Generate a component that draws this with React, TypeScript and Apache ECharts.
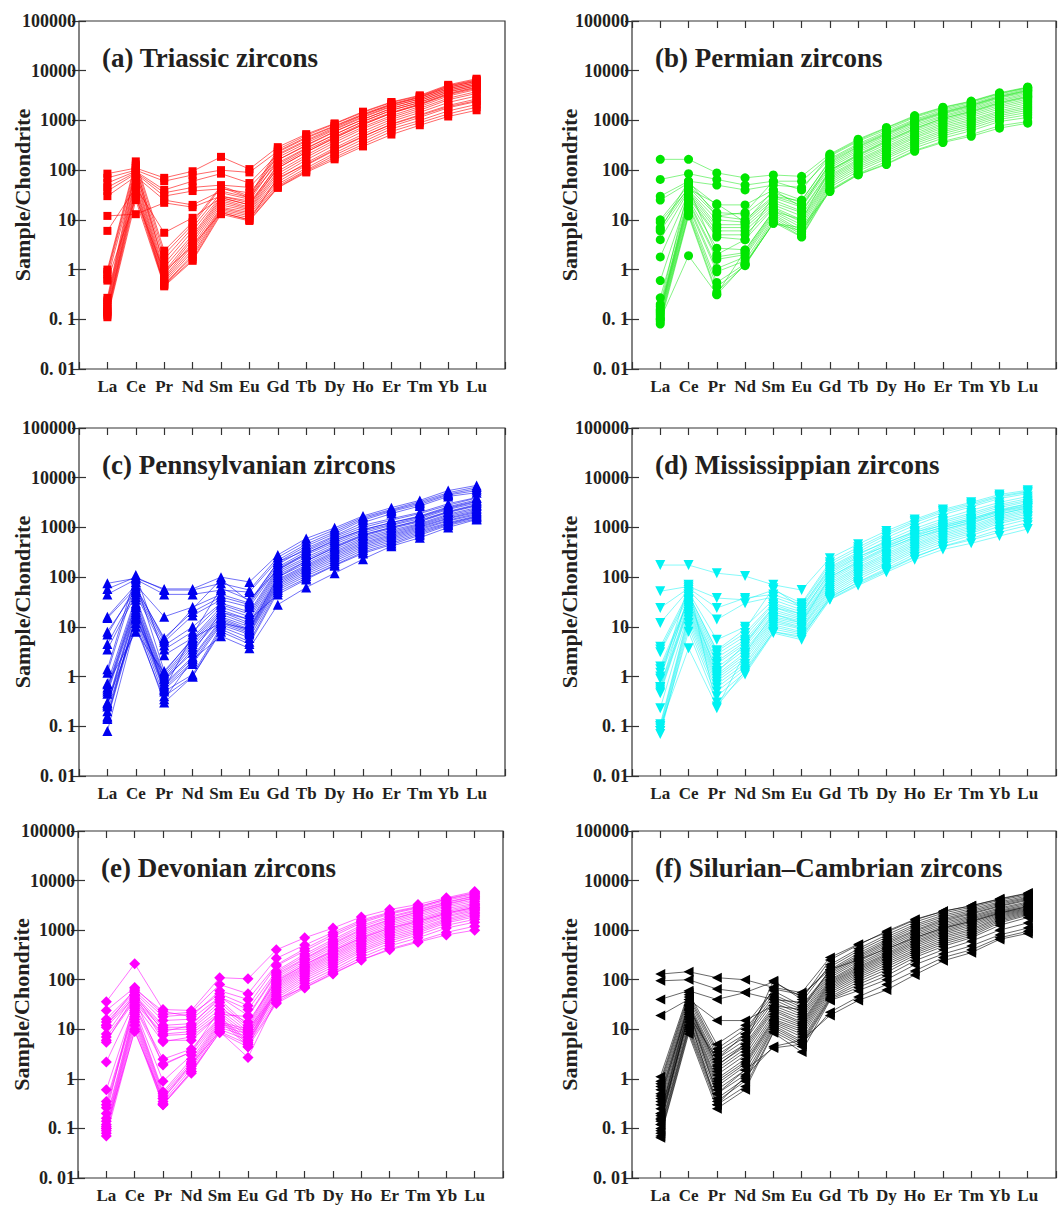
import React, { useEffect, useRef } from 'react';
import * as echarts from 'echarts';

const REE = ['La', 'Ce', 'Pr', 'Nd', 'Sm', 'Eu', 'Gd', 'Tb', 'Dy', 'Ho', 'Er', 'Tm', 'Yb', 'Lu'];
const Y_TICK_LABELS = ['0. 01', '0. 1', '1', '10', '100', '1000', '10000', '100000'];
const PANEL_TITLES = [
  '(a) Triassic zircons',
  '(b) Permian zircons',
  '(c) Pennsylvanian zircons',
  '(d) Mississippian zircons',
  '(e) Devonian zircons',
  '(f) Silurian\u2013Cambrian zircons',
];
const Y_NAME = 'Sample/Chondrite';

// Chondrite-normalised REE per sample: La..Lu
const triassic = [
  [85, 110, 70, 95, 185, 105, 290, 530, 870, 1500, 2350, 3200, 5200, 6900],
  [70, 100, 60, 80, 100, 90, 240, 460, 780, 1350, 2150, 3000, 4900, 6400],
  [55, 95, 40, 60, 85, 55, 210, 400, 720, 1280, 2050, 2900, 4700, 6100],
  [45, 90, 35, 45, 50, 45, 180, 350, 650, 1150, 1900, 2700, 4400, 5700],
  [38, 85, 30, 38, 42, 35, 160, 310, 590, 1050, 1750, 2500, 4100, 5300],
  [30, 75, 25, 20, 38, 28, 140, 280, 520, 950, 1600, 2300, 3800, 5000],
  [12, 13, 22, 18, 30, 22, 120, 250, 470, 870, 1450, 2150, 3500, 4700],
  [6, 45, 5.5, 11, 28, 20, 110, 230, 440, 820, 1400, 2050, 3300, 4400],
  [1.0, 150, 2.4, 9, 48, 30, 260, 500, 850, 1450, 2300, 3100, 5000, 6600],
  [0.9, 130, 2.0, 8, 45, 28, 230, 440, 760, 1300, 2100, 2900, 4600, 6200],
  [0.8, 110, 1.6, 7, 35, 26, 200, 380, 680, 1200, 1950, 2700, 4300, 5800],
  [0.65, 90, 1.3, 6, 30, 24, 160, 320, 600, 1050, 1750, 2500, 4000, 5400],
  [0.27, 120, 1.1, 5, 28, 20, 130, 270, 520, 950, 1600, 2300, 3700, 5000],
  [0.24, 100, 0.9, 4.5, 26, 18, 110, 230, 450, 830, 1400, 2100, 3400, 4600],
  [0.22, 80, 0.8, 4, 24, 17, 95, 200, 400, 740, 1250, 1900, 3100, 4200],
  [0.2, 70, 0.7, 3.5, 22, 16, 85, 180, 360, 680, 1150, 1750, 2800, 3800],
  [0.18, 60, 0.65, 3, 20, 15, 75, 160, 320, 600, 1050, 1600, 2600, 3500],
  [0.16, 50, 0.6, 2.6, 18, 14, 65, 140, 280, 530, 950, 1450, 2300, 3100],
  [0.15, 45, 0.55, 2.3, 17, 13, 58, 125, 250, 470, 850, 1300, 2000, 2700],
  [0.14, 40, 0.5, 2.0, 16, 12, 52, 110, 220, 420, 760, 1150, 1800, 2400],
  [0.13, 35, 0.5, 1.8, 15, 11, 48, 100, 200, 370, 680, 1000, 1550, 2100],
  [0.12, 30, 0.48, 1.6, 14, 10, 45, 95, 180, 330, 600, 900, 1350, 1850],
  [0.11, 25, 0.46, 1.5, 13, 9.5, 44, 90, 165, 300, 520, 800, 1200, 1600],
  [0.6, 28, 0.9, 3, 14, 10, 70, 130, 260, 480, 830, 1250, 1900, 2500],
];

const permian = [
  [165, 165, 88, 70, 80, 75, 210, 420, 720, 1250, 1850, 2450, 3600, 4700],
  [65, 85, 65, 50, 60, 60, 190, 380, 650, 1150, 1700, 2300, 3400, 4500],
  [30, 60, 50, 40, 50, 45, 170, 340, 600, 1050, 1600, 2150, 3200, 4300],
  [25, 55, 20, 20, 40, 25, 150, 300, 540, 950, 1450, 2000, 3000, 4000],
  [10, 50, 14, 13, 35, 22, 130, 270, 490, 880, 1350, 1850, 2800, 3700],
  [7, 45, 12, 10, 30, 20, 120, 250, 450, 820, 1250, 1750, 2600, 3500],
  [6, 40, 10, 9, 28, 18, 110, 230, 420, 760, 1180, 1650, 2450, 3300],
  [4, 38, 8, 8, 25, 15, 100, 210, 390, 700, 1100, 1550, 2300, 3100],
  [1.8, 35, 7, 7, 22, 14, 95, 195, 360, 650, 1020, 1450, 2150, 2900],
  [0.6, 32, 6, 6, 20, 12, 88, 180, 330, 600, 950, 1350, 2000, 2700],
  [0.27, 30, 5, 5, 18, 10, 80, 165, 300, 550, 880, 1250, 1850, 2500],
  [0.18, 28, 4.5, 4, 17, 9, 75, 155, 280, 510, 820, 1150, 1700, 2300],
  [0.16, 26, 2.7, 2.5, 15, 8, 70, 145, 260, 470, 760, 1050, 1550, 2100],
  [0.15, 24, 1.8, 2.2, 14, 7, 65, 135, 240, 440, 700, 980, 1450, 1900],
  [0.14, 22, 1.6, 2.0, 13, 6, 60, 125, 220, 400, 640, 900, 1350, 1750],
  [0.13, 20, 1.05, 1.8, 12, 5.5, 55, 115, 200, 370, 590, 830, 1250, 1600],
  [0.12, 18, 0.9, 1.5, 11, 5, 50, 105, 185, 340, 540, 760, 1150, 1450],
  [0.11, 16, 0.55, 1.3, 10, 4.6, 45, 95, 170, 310, 490, 690, 1050, 1300],
  [0.1, 14, 0.45, 1.2, 9, 4.5, 40, 85, 150, 280, 440, 620, 950, 1150],
  [0.09, 13, 0.35, 1.25, 8.5, 6, 37, 80, 130, 240, 360, 480, 700, 880],
  [0.08, 12, 0.31, 1.3, 8.5, 7, 38, 82, 135, 250, 380, 520, 780, 950],
  [0.1, 1.9, 0.32, 2.4, 15, 10, 100, 200, 380, 680, 1100, 1500, 2250, 3000],
  [6.5, 60, 12, 14, 60, 40, 200, 400, 700, 1200, 1800, 2400, 3500, 4600],
  [0.2, 45, 2.0, 4, 30, 24, 160, 320, 560, 1000, 1500, 2050, 3050, 4100],
  [9, 42, 21, 9, 40, 18, 140, 290, 520, 930, 1400, 1950, 2900, 3900],
];

const pennsylvanian = [
  [75, 95, 58, 58, 100, 80, 280, 600, 980, 1700, 2500, 3500, 5500, 7000],
  [58, 100, 55, 55, 75, 55, 250, 520, 900, 1600, 2300, 3300, 5000, 6500],
  [45, 90, 45, 45, 55, 50, 220, 460, 820, 1500, 2200, 3100, 4700, 6000],
  [16, 70, 16, 25, 45, 30, 200, 420, 750, 1400, 2100, 2900, 4500, 5500],
  [15, 60, 6, 20, 40, 28, 180, 380, 680, 1250, 1900, 2700, 4200, 5000],
  [8, 55, 5, 17, 35, 25, 160, 330, 600, 1000, 1400, 1900, 2800, 3900],
  [4.5, 50, 4.2, 10, 30, 20, 150, 300, 540, 900, 1250, 1700, 2600, 3600],
  [3.5, 45, 3.5, 8, 28, 18, 140, 280, 500, 850, 1150, 1600, 2400, 3300],
  [1.4, 110, 2.7, 6, 25, 16, 130, 250, 460, 780, 1100, 1500, 2300, 3100],
  [1.2, 80, 1.3, 5.5, 22, 14, 120, 230, 420, 720, 1000, 1400, 2100, 2900],
  [0.73, 40, 1.1, 5, 20, 12, 110, 210, 390, 670, 950, 1300, 2000, 2700],
  [0.6, 35, 1.0, 4.5, 18, 11, 100, 190, 360, 620, 880, 1200, 1850, 2500],
  [0.55, 30, 0.9, 4, 16, 10, 90, 175, 330, 580, 820, 1150, 1750, 2350],
  [0.5, 28, 0.8, 3.5, 15, 9, 85, 165, 310, 540, 770, 1100, 1650, 2200],
  [0.29, 25, 0.7, 2.5, 14, 8.5, 80, 155, 290, 500, 720, 1050, 1550, 2100],
  [0.27, 22, 0.65, 2.3, 13, 8, 75, 145, 270, 470, 680, 1000, 1500, 2000],
  [0.25, 20, 0.6, 2.0, 12, 7.5, 70, 135, 250, 440, 640, 950, 1400, 1900],
  [0.16, 18, 0.55, 1.8, 11, 7, 65, 125, 230, 410, 600, 900, 1350, 1800],
  [0.15, 16, 0.5, 1.1, 10, 6, 60, 115, 210, 380, 560, 850, 1250, 1700],
  [0.14, 14, 0.4, 1.0, 9, 5, 55, 105, 190, 350, 520, 800, 1200, 1650],
  [0.08, 12, 0.3, 1.0, 8, 4.5, 50, 95, 175, 320, 480, 750, 1150, 1600],
  [0.3, 10, 0.35, 2.2, 6.5, 3.7, 28, 62, 120, 230, 420, 620, 1000, 1450],
  [0.7, 8, 1.2, 6, 12, 9, 100, 210, 400, 700, 1000, 1350, 2050, 2800],
  [0.45, 25, 0.55, 7, 60, 35, 140, 300, 560, 900, 1250, 1650, 2500, 3400],
  [7, 65, 5.5, 23, 90, 32, 200, 350, 650, 1100, 1500, 2000, 3000, 4000],
  [0.2, 15, 0.9, 3, 20, 14, 45, 90, 170, 300, 450, 700, 1100, 1500],
];

const mississippian = [
  [175, 175, 120, 105, 70, 55, 240, 460, 850, 1450, 2300, 3200, 4600, 5600],
  [52, 65, 38, 35, 55, 30, 200, 400, 760, 1350, 2150, 3000, 4300, 5300],
  [24, 60, 24, 38, 45, 28, 180, 360, 700, 1250, 2000, 2800, 4100, 5100],
  [12, 55, 14, 30, 40, 25, 160, 320, 620, 1100, 1800, 2600, 3800, 4800],
  [4, 50, 5.5, 10, 35, 22, 140, 280, 540, 950, 1500, 2200, 3200, 4200],
  [3.5, 45, 3.2, 7.5, 30, 20, 120, 250, 480, 850, 1350, 1950, 2900, 3800],
  [3.1, 40, 2.8, 6.5, 28, 18, 110, 230, 440, 780, 1250, 1800, 2700, 3500],
  [1.6, 36, 2.4, 5.5, 25, 16, 100, 210, 400, 710, 1150, 1650, 2500, 3300],
  [1.4, 33, 2.0, 5.0, 22, 15, 92, 190, 360, 650, 1050, 1500, 2300, 3000],
  [1.0, 30, 1.8, 4.5, 20, 14, 85, 175, 330, 600, 970, 1400, 2150, 2800],
  [0.62, 28, 1.5, 4.0, 18, 13, 78, 160, 300, 550, 900, 1300, 2000, 2600],
  [0.55, 26, 1.3, 3.5, 16, 12, 72, 150, 280, 510, 830, 1200, 1850, 2450],
  [0.5, 24, 1.1, 3.0, 15, 11, 66, 140, 260, 470, 770, 1100, 1700, 2300],
  [0.46, 22, 1.0, 2.7, 14, 10, 60, 130, 240, 440, 720, 1020, 1600, 2150],
  [0.23, 20, 0.9, 2.4, 13, 9.5, 55, 120, 220, 410, 670, 950, 1500, 2000],
  [0.11, 18, 0.8, 2.1, 12, 9, 50, 110, 200, 380, 620, 880, 1400, 1850],
  [0.1, 16, 0.7, 1.8, 11, 8, 46, 100, 185, 350, 570, 820, 1300, 1700],
  [0.09, 14, 0.6, 1.6, 10, 7.5, 42, 90, 170, 320, 520, 760, 1200, 1600],
  [0.08, 12, 0.5, 1.4, 9, 7, 38, 80, 150, 290, 470, 690, 1050, 1450],
  [0.07, 10, 0.4, 1.2, 8, 6.5, 36, 72, 135, 250, 420, 600, 900, 1250],
  [0.08, 8, 0.3, 1.1, 7.5, 5.5, 35, 68, 125, 225, 360, 480, 670, 930],
  [0.1, 3.7, 0.25, 1.3, 8, 6, 40, 78, 140, 260, 410, 560, 800, 1100],
  [0.9, 70, 0.23, 3, 18, 12, 100, 200, 380, 620, 900, 1250, 1850, 2500],
  [0.6, 45, 3.4, 9, 60, 24, 150, 300, 500, 800, 1100, 1500, 2200, 3000],
  [1.2, 35, 1.2, 4.5, 25, 18, 130, 260, 420, 700, 1000, 1400, 2100, 2700],
];

const devonian = [
  [36, 210, 25, 24, 110, 104, 400, 700, 1100, 1850, 2600, 3300, 4500, 6000],
  [24, 70, 20, 22, 80, 52, 270, 500, 900, 1600, 2300, 3000, 4200, 5500],
  [16, 60, 18, 20, 52, 30, 190, 380, 750, 1400, 2100, 2800, 4000, 5200],
  [14, 55, 15, 16, 45, 19, 140, 300, 600, 1150, 1800, 2500, 3600, 4800],
  [12, 50, 12, 13, 40, 12, 120, 260, 520, 1000, 1600, 2300, 3300, 4400],
  [11, 45, 11, 11, 35, 11, 110, 240, 480, 920, 1500, 2150, 3100, 4100],
  [7, 40, 10, 10, 30, 10, 100, 220, 440, 850, 1400, 2000, 2900, 3800],
  [6, 38, 8, 9, 25, 9, 90, 200, 400, 780, 1300, 1850, 2700, 3500],
  [2.2, 35, 7.5, 8, 22, 8, 85, 185, 370, 720, 1200, 1700, 2500, 3300],
  [0.6, 32, 5.6, 7, 20, 7, 80, 175, 340, 670, 1100, 1600, 2350, 3100],
  [0.35, 30, 2.5, 4, 18, 6, 75, 165, 320, 620, 1020, 1500, 2200, 2900],
  [0.3, 28, 2.0, 3.5, 17, 5.5, 70, 155, 300, 580, 950, 1400, 2100, 2750],
  [0.26, 26, 0.9, 3, 16, 5, 65, 145, 280, 540, 890, 1300, 1950, 2600],
  [0.16, 24, 0.55, 2.5, 15, 4.5, 60, 135, 260, 500, 830, 1200, 1850, 2450],
  [0.14, 22, 0.5, 2.2, 14, 10, 55, 125, 240, 460, 770, 1100, 1700, 2300],
  [0.12, 20, 0.45, 2.0, 13, 9, 50, 115, 220, 420, 710, 1020, 1600, 2150],
  [0.11, 18, 0.4, 1.8, 12, 8, 46, 105, 200, 390, 650, 950, 1500, 2000],
  [0.1, 16, 0.35, 1.6, 11, 7, 42, 95, 180, 360, 600, 880, 1400, 1850],
  [0.09, 14, 0.32, 1.4, 10, 6, 38, 85, 160, 320, 540, 800, 1250, 1650],
  [0.08, 12, 0.3, 1.3, 9, 5, 35, 75, 145, 280, 480, 700, 1100, 1450],
  [0.07, 10, 0.3, 1.4, 8.5, 4.4, 33, 68, 130, 250, 420, 600, 900, 1200],
  [0.1, 9, 0.4, 2.0, 9, 2.7, 40, 70, 135, 250, 400, 570, 800, 1000],
  [12, 65, 23, 18, 60, 40, 200, 420, 820, 1500, 2200, 2900, 4300, 5700],
  [8, 50, 9, 12, 45, 25, 150, 330, 650, 1250, 1900, 2600, 3700, 4900],
  [0.2, 42, 1.9, 3.5, 25, 14, 95, 200, 380, 700, 1100, 1500, 2200, 2900],
  [5.5, 48, 6, 6, 20, 18, 130, 270, 550, 1050, 1650, 2350, 3400, 4500],
];

const silurianCambrian = [
  [130, 145, 110, 100, 70, 55, 280, 520, 900, 1600, 2400, 3100, 4200, 5500],
  [95, 100, 65, 55, 40, 35, 200, 420, 800, 1450, 2200, 2900, 4000, 5200],
  [40, 60, 40, 55, 90, 45, 180, 380, 720, 1300, 2000, 2700, 3700, 4900],
  [19, 40, 15, 15, 30, 25, 160, 340, 650, 1200, 1850, 2500, 3500, 4600],
  [1.1, 55, 5, 12, 60, 30, 150, 310, 600, 1100, 1700, 2350, 3300, 4400],
  [0.9, 50, 4, 10, 50, 28, 140, 290, 560, 1000, 1600, 2200, 3100, 4200],
  [0.8, 45, 3.5, 8, 45, 25, 130, 270, 520, 950, 1500, 2100, 3000, 4000],
  [0.7, 40, 3, 7, 40, 22, 120, 250, 480, 880, 1400, 1950, 2800, 3700],
  [0.6, 35, 2.5, 6, 35, 20, 110, 230, 440, 820, 1300, 1850, 2650, 3500],
  [0.5, 32, 2.2, 5, 30, 18, 100, 210, 400, 760, 1200, 1750, 2500, 3300],
  [0.45, 30, 1.9, 4.5, 27, 16, 95, 195, 370, 700, 1120, 1650, 2400, 3100],
  [0.4, 28, 1.6, 4, 25, 14, 90, 180, 340, 650, 1050, 1550, 2300, 2950],
  [0.3, 26, 1.4, 3.5, 23, 13, 85, 170, 320, 600, 980, 1450, 2200, 2800],
  [0.25, 24, 1.2, 3, 20, 12, 80, 160, 300, 560, 920, 1350, 2100, 2700],
  [0.2, 22, 1.0, 2.5, 18, 11, 75, 150, 280, 520, 860, 1250, 2000, 2600],
  [0.18, 20, 0.9, 2.2, 16, 10, 70, 140, 260, 480, 800, 1150, 1900, 2500],
  [0.16, 18, 0.8, 2.0, 15, 9, 65, 130, 240, 440, 740, 1050, 1800, 2400],
  [0.14, 16, 0.7, 1.8, 14, 8, 60, 120, 220, 400, 680, 980, 1700, 2300],
  [0.12, 14, 0.6, 1.5, 13, 7, 55, 110, 200, 370, 620, 900, 1600, 2200],
  [0.1, 12, 0.5, 1.2, 12, 6, 50, 100, 180, 340, 570, 830, 1500, 2100],
  [0.09, 11, 0.4, 1.0, 11, 5.5, 45, 90, 160, 310, 520, 760, 1400, 2000],
  [0.08, 10, 0.35, 0.9, 10, 5, 42, 80, 140, 280, 470, 700, 1250, 1800],
  [0.07, 9, 0.3, 0.7, 9, 4.5, 40, 70, 120, 240, 400, 600, 1000, 1400],
  [0.065, 8, 0.25, 0.6, 8.5, 3.5, 38, 60, 100, 200, 330, 480, 800, 1100],
  [0.15, 18, 0.3, 1.1, 4.5, 6, 19, 38, 62, 125, 240, 350, 650, 860],
  [0.2, 25, 0.5, 1.5, 4.2, 5, 22, 45, 80, 150, 280, 400, 700, 950],
  [0.35, 30, 1.8, 5, 95, 40, 250, 500, 950, 1650, 2400, 3100, 4300, 5600],
  [0.12, 20, 2.5, 8, 65, 50, 160, 250, 420, 700, 1100, 1500, 2200, 3000],
];

const PANEL_DATA = [triassic, permian, pennsylvanian, mississippian, devonian, silurianCambrian];

// layout & style (not data)
const PANELS = [
  { left: 79, top: 21, width: 426, height: 348, color: '#ff0000', lineOpacity: 0.75, symbol: 'rect', size: 8, rotate: 0, topTicks: false, nameGap: 46 },
  { left: 632, top: 21, width: 428, height: 348, color: '#00e600', lineOpacity: 0.6, symbol: 'circle', size: 9, rotate: 0, topTicks: true, nameGap: 52 },
  { left: 79, top: 428, width: 426, height: 348, color: '#0000f0', lineOpacity: 0.7, symbol: 'triangle', size: 10, rotate: 0, topTicks: true, nameGap: 46 },
  { left: 632, top: 428, width: 428, height: 348, color: '#00f2f2', lineOpacity: 0.6, symbol: 'triangle', size: 10, rotate: 180, topTicks: true, nameGap: 52 },
  { left: 78, top: 831, width: 425, height: 347, color: '#ff00ff', lineOpacity: 0.7, symbol: 'diamond', size: 11, rotate: 0, topTicks: true, nameGap: 46 },
  { left: 632, top: 831, width: 428, height: 347, color: '#000000', lineOpacity: 0.75, symbol: 'triangle', size: 10, rotate: 90, topTicks: true, nameGap: 52 },
];

const FONT = '"Liberation Serif", "Times New Roman", serif';
const TEXT_COLOR = '#231f20';
const AXIS_COLOR = '#333333';

export default function App() {
  const ref = useRef<HTMLDivElement>(null);

  useEffect(() => {
    if (!ref.current) return;
    const chart = echarts.init(ref.current, undefined, { renderer: 'svg' });

    const grid: any[] = [];
    const xAxis: any[] = [];
    const yAxis: any[] = [];
    const series: any[] = [];
    const graphic: any[] = [];

    PANELS.forEach((p, pi) => {
      grid.push({
        left: p.left, top: p.top, width: p.width, height: p.height,
        show: true, borderColor: AXIS_COLOR, borderWidth: 1.2, backgroundColor: 'transparent',
        containLabel: false,
      });
      xAxis.push({
        type: 'value', gridIndex: pi, min: 0, max: 15, interval: 1, position: 'bottom',
        axisLine: { show: false },
        axisTick: { show: true, inside: true, length: 7, lineStyle: { color: AXIS_COLOR, width: 1.2 } },
        axisLabel: {
          show: true, margin: 9, color: TEXT_COLOR, fontFamily: FONT, fontWeight: 'bold', fontSize: 17,
          formatter: (v: number) => REE[Math.round(v) - 1] || '',
        },
        splitLine: { show: false },
      });
      xAxis.push({
        type: 'value', gridIndex: pi, min: 0, max: 15, interval: 1, position: 'top',
        axisLine: { show: false },
        axisTick: { show: p.topTicks, inside: true, length: 7, lineStyle: { color: AXIS_COLOR, width: 1.2 } },
        axisLabel: { show: false },
        splitLine: { show: false },
      });
      yAxis.push({
        type: 'log', logBase: 10, gridIndex: pi, min: 0.01, max: 100000, splitNumber: 7, position: 'left',
        name: Y_NAME, nameLocation: 'middle', nameGap: p.nameGap, nameRotate: 90, nameMoveOverlap: false,
        nameTextStyle: { color: TEXT_COLOR, fontFamily: FONT, fontWeight: 'bold', fontSize: 22 },
        axisLine: { show: false },
        axisTick: { show: true, inside: true, length: 7, lineStyle: { color: AXIS_COLOR, width: 1.2 } },
        axisLabel: {
          show: true, margin: 3, color: TEXT_COLOR, fontFamily: FONT, fontWeight: 'bold', fontSize: 18,
          formatter: (v: number) => Y_TICK_LABELS[Math.round(Math.log10(v)) + 2] ?? '',
        },
        splitLine: { show: false },
      });
      yAxis.push({
        type: 'log', logBase: 10, gridIndex: pi, min: 0.01, max: 100000, splitNumber: 7, position: 'right',
        axisLine: { show: false },
        axisTick: { show: true, inside: true, length: 7, lineStyle: { color: AXIS_COLOR, width: 1.2 } },
        axisLabel: { show: false },
        splitLine: { show: false },
      });

      PANEL_DATA[pi].forEach((sample, si) => {
        series.push({
          type: 'line',
          name: `${pi}-${si}`,
          xAxisIndex: pi * 2,
          yAxisIndex: pi * 2,
          data: sample.map((v, i) => [i + 1, v]),
          symbol: p.symbol,
          symbolSize: p.size,
          symbolRotate: p.rotate,
          showSymbol: true,
          lineStyle: { color: p.color, width: 0.8, opacity: p.lineOpacity },
          itemStyle: { color: p.color, opacity: 1 },
          emphasis: { disabled: true },
          silent: true,
          z: 2,
        });
      });

      graphic.push({
        type: 'text',
        x: p.left + 23,
        y: p.top + 37,
        style: {
          text: PANEL_TITLES[pi],
          font: `bold 27px ${FONT}`,
          fill: TEXT_COLOR,
          verticalAlign: 'middle',
          align: 'left',
        },
        z: 10,
      });
    });

    chart.setOption({
      animation: false,
      backgroundColor: '#ffffff',
      grid,
      xAxis,
      yAxis,
      series,
      graphic,
      tooltip: { show: false },
    });

    return () => chart.dispose();
  }, []);

  return (
    <div
      ref={ref}
      style={{ position: 'absolute', left: 0, top: 0, width: 1059, height: 1205, background: '#fff' }}
    />
  );
}
